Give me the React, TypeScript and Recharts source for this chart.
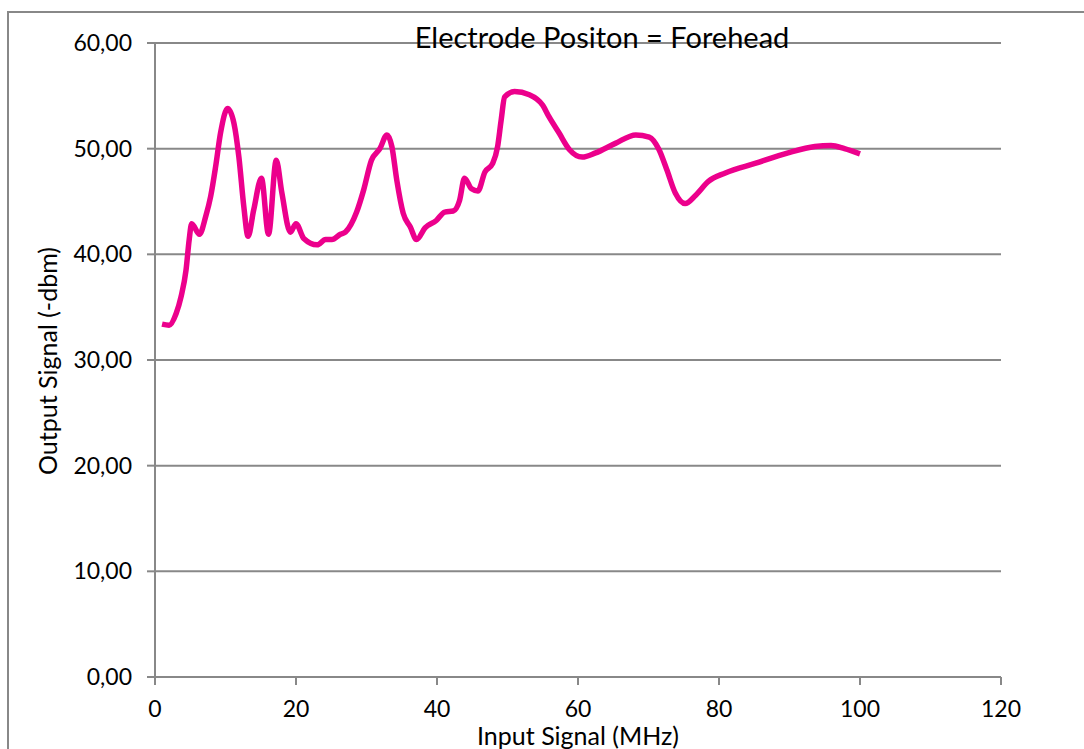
import React from 'react';
import { LineChart, Line, XAxis, YAxis, CartesianGrid } from 'recharts';

const freqMHz = [
  1.0, 2.0, 3.0, 3.7, 4.4, 4.85, 5.2, 6.3, 7.2, 7.9,
  8.6, 9.3, 10.3, 11.2, 11.9, 12.6, 13.2, 14.0, 15.1, 16.1,
  17.2, 18.0, 19.2, 20.0, 21.1, 23.0, 24.2, 25.1, 26.3, 27.0,
  28.6, 29.6, 30.7, 31.9, 32.9, 33.6, 34.3, 35.2, 36.2, 37.1,
  38.3, 39.9, 41.1, 42.3, 43.2, 43.9, 44.9, 45.8, 46.8, 47.9,
  48.6, 49.1, 49.6, 51.0, 53.1, 55.0, 55.9, 57.3, 58.8, 60.6,
  62.5, 65.3, 68.2, 70.1, 71.5, 72.6, 73.8, 75.2, 76.7, 78.5,
  80.9, 85.1, 89.8, 93.6, 95.9, 97.8, 100,
];

const outputSignal = [
  33.4, 33.3, 34.4, 36.0, 38.5, 41.4, 42.9, 41.9, 43.6, 45.5,
  48.3, 51.5, 53.8, 52.4, 49.2, 44.5, 41.7, 44.2, 47.2, 41.9,
  48.9, 45.8, 42.1, 42.9, 41.5, 40.9, 41.4, 41.4, 41.9, 42.1,
  44.0, 46.1, 48.9, 50.0, 51.3, 50.2, 47.0, 43.9, 42.6, 41.4,
  42.5, 43.2, 44.0, 44.1, 45.1, 47.2, 46.2, 46.0, 47.8, 48.6,
  50.2, 52.7, 54.9, 55.4, 55.1, 54.1, 53.0, 51.5, 49.9, 49.2,
  49.6, 50.5, 51.3, 51.1, 49.9, 48.0, 45.8, 44.8, 45.6, 46.9,
  47.7, 48.6, 49.6, 50.2, 50.3, 50.0, 49.5,
];

const xTicks = [0, 20, 40, 60, 80, 100, 120];
const yTicks = [0, 10, 20, 30, 40, 50, 60];

const titleText = 'Electrode Positon = Forehead';
const xLabel = 'Input Signal (MHz)';
const yLabel = 'Output Signal (-dbm)';

const data = freqMHz.map((f, i) => ({ f, v: outputSignal[i] }));

const FONT = 'Lato, "Open Sans", sans-serif';
const GRAY = '#888888';

export default function App() {
  return (
    <div style={{ position: 'absolute', left: 0, top: 0, width: 1084, height: 749, background: '#fff', fontFamily: FONT, overflow: 'hidden' }}>
      <div style={{ position: 'absolute', left: 7, top: 11, width: 1100, height: 800, borderLeft: `2px solid ${GRAY}`, borderTop: `2px solid ${GRAY}` }} />
      <LineChart
        width={1084}
        height={749}
        data={data}
        margin={{ top: 43, right: 83, bottom: 0, left: 0 }}
        style={{ position: 'absolute', left: 0, top: 0 }}
      >
        <CartesianGrid vertical={false} stroke={GRAY} strokeWidth={2} />
        <XAxis
          dataKey="f"
          type="number"
          domain={[0, 120]}
          ticks={xTicks}
          height={72}
          tickSize={8}
          tickMargin={16}
          axisLine={{ stroke: GRAY, strokeWidth: 2 }}
          tickLine={{ stroke: GRAY, strokeWidth: 2 }}
          tick={{ fill: '#000', fontSize: 23, fontFamily: FONT }}
          interval={0}
        />
        <YAxis
          type="number"
          domain={[0, 60]}
          ticks={yTicks}
          width={155}
          tickSize={8}
          tickMargin={15}
          axisLine={{ stroke: GRAY, strokeWidth: 2 }}
          tickLine={{ stroke: GRAY, strokeWidth: 2 }}
          tick={{ fill: '#000', fontSize: 23, fontFamily: FONT }}
          tickFormatter={(v: number) => v.toFixed(2).replace('.', ',')}
          interval={0}
        />
        <Line
          type="monotone"
          dataKey="v"
          stroke="#EC008C"
          strokeWidth={5.5}
          dot={false}
          isAnimationActive={false}
        />
      </LineChart>
      <div style={{ position: 'absolute', left: 602, top: 36, transform: 'translate(-50%, -50%)', fontSize: 29, whiteSpace: 'nowrap', color: '#000' }}>
        {titleText}
      </div>
      <div style={{ position: 'absolute', left: 578, top: 735, transform: 'translate(-50%, -50%)', fontSize: 25, whiteSpace: 'nowrap', color: '#000' }}>
        {xLabel}
      </div>
      <div style={{ position: 'absolute', left: 47, top: 361, transform: 'translate(-50%, -50%) rotate(-90deg)', fontSize: 25, whiteSpace: 'nowrap', color: '#000' }}>
        {yLabel}
      </div>
    </div>
  );
}
